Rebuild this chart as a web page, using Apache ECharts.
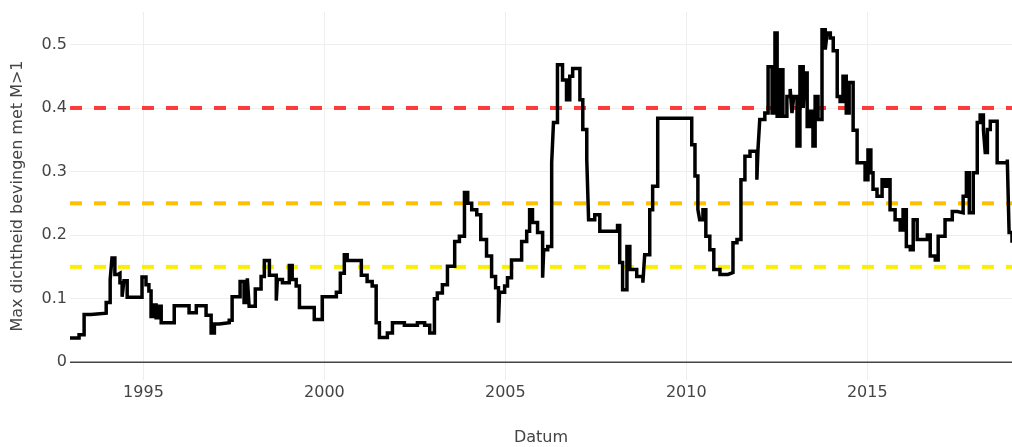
<!DOCTYPE html>
<html>
<head>
<meta charset="utf-8">
<script src="https://cdn.jsdelivr.net/npm/echarts@6/dist/echarts.min.js"></script>
<style>
html,body{margin:0;padding:0;background:#fff;}
#chart{width:1012px;height:447px;}
</style>
</head>
<body>
<div id="chart"></div>
<script>
// Dates as decimal years; each value holds from its date until the next date
const dates = [
 1992.97,1993.22,1993.36,1993.55,1993.97,1994.08,1994.13,1994.21,1994.29,1994.35,1994.41,1994.46,1994.55,
 1994.96,1995.07,1995.15,1995.21,1995.27,1995.35,1995.43,1995.49,1995.85,1996.26,1996.46,1996.73,1996.87,1996.96,
 1997.09,1997.37,1997.45,1997.67,1997.78,1997.87,1997.92,1998.09,1998.25,1998.34,1998.48,1998.67,1998.70,1998.84,
 1999.03,1999.11,1999.22,1999.31,1999.72,1999.94,2000.33,2000.44,2000.55,2000.63,2001.02,2001.18,2001.32,2001.43,
 2001.52,2001.74,2001.88,2002.21,2002.57,2002.77,2002.91,2003.04,2003.12,2003.26,2003.40,2003.60,2003.73,2003.87,
 2003.96,2004.07,2004.21,2004.32,2004.48,2004.62,2004.73,2004.81,2004.84,2004.98,2005.06,2005.17,2005.45,2005.59,
 2005.67,2005.75,2005.89,2006.03,2006.06,2006.17,2006.28,2006.33,2006.44,2006.58,2006.69,2006.78,2006.86,2007.06,
 2007.14,2007.25,2007.30,2007.47,2007.61,2008.10,2008.16,2008.24,2008.36,2008.44,2008.63,2008.80,2008.85,2008.99,
 2009.07,2009.21,2010.15,2010.24,2010.32,2010.37,2010.46,2010.54,2010.65,2010.76,2010.93,2011.15,2011.29,2011.40,
 2011.51,2011.62,2011.76,2011.95,2011.98,2012.03,2012.17,2012.26,2012.37,2012.45,2012.51,2012.59,2012.67,2012.78,
 2012.87,2012.92,2012.97,2013.06,2013.14,2013.23,2013.28,2013.34,2013.42,2013.50,2013.56,2013.64,2013.75,2013.84,
 2013.89,2013.98,2014.06,2014.17,2014.25,2014.33,2014.42,2014.50,2014.61,2014.72,2014.94,2015.02,2015.10,2015.16,
 2015.27,2015.41,2015.49,2015.55,2015.63,2015.77,2015.91,2015.99,2016.08,2016.19,2016.27,2016.38,2016.66,2016.74,
 2016.88,2016.96,2017.15,2017.35,2017.49,2017.65,2017.74,2017.82,2017.93,2018.04,2018.12,2018.21,2018.26,2018.32,
 2018.40,2018.59,2018.87,2018.92,2019.00
];
const values = [
 0.038,0.043,0.075,0.077,0.094,0.13,0.164,0.138,0.14,0.125,0.103,0.128,0.102,
 0.134,0.122,0.112,0.072,0.09,0.07,0.088,0.062,0.089,0.078,0.089,0.074,0.046,0.06,
 0.062,0.066,0.103,0.127,0.094,0.132,0.088,0.115,0.135,0.16,0.137,0.097,0.13,0.125,
 0.152,0.13,0.12,0.086,0.067,0.103,0.11,0.14,0.169,0.16,0.137,0.127,0.12,0.062,
 0.039,0.046,0.062,0.058,0.062,0.058,0.046,0.10,0.109,0.122,0.151,0.19,0.198,0.267,
 0.25,0.24,0.232,0.193,0.167,0.135,0.117,0.062,0.11,0.12,0.133,0.161,0.19,0.206,
 0.24,0.22,0.204,0.133,0.177,0.182,0.314,0.377,0.468,0.444,0.413,0.45,0.462,0.413,
 0.366,0.318,0.224,0.232,0.206,0.215,0.157,0.114,0.182,0.146,0.135,0.125,0.169,0.24,
 0.277,0.384,0.342,0.293,0.24,0.224,0.24,0.198,0.177,0.146,0.138,0.141,0.188,0.193,
 0.287,0.324,0.332,0.287,0.334,0.382,0.392,0.465,0.392,0.518,0.387,0.46,0.387,0.418,
 0.43,0.392,0.418,0.34,0.465,0.40,0.455,0.371,0.395,0.34,0.418,0.382,0.523,0.492,
 0.518,0.51,0.49,0.418,0.41,0.45,0.392,0.44,0.365,0.314,0.287,0.334,0.298,0.272,
 0.261,0.287,0.277,0.287,0.24,0.224,0.208,0.24,0.182,0.177,0.224,0.193,0.2,0.167,
 0.161,0.198,0.224,0.237,0.235,0.261,0.298,0.235,0.298,0.377,0.389,0.366,0.33,0.366,
 0.379,0.314,0.319,0.204,0.188
];
const thresholdValues = [0.4, 0.25, 0.15];
const thresholdColors = ['#ff3b3b', '#ffc000', '#f8f000'];
const xTickYears = [1995, 2000, 2005, 2010, 2015];
const yTicks = [0, 0.1, 0.2, 0.3, 0.4, 0.5];
const xName = 'Datum';
const yName = 'Max dichtheid bevingen met M>1';

const xMin = dates[0], xMax = dates[dates.length - 1];
const FONT = 'DejaVu Sans';

const series = [{
  type: 'line',
  data: [[xMin, 0], [xMax, 0]],
  symbol: 'none',
  silent: true,
  z: 0,
  lineStyle: { color: '#444', width: 1.5 }
}];
thresholdValues.forEach((v, i) => series.push({
  type: 'line',
  data: [[xMin, v], [xMax, v]],
  symbol: 'none',
  silent: true,
  z: 1,
  lineStyle: { color: thresholdColors[i], width: 4, type: [12, 12], cap: 'butt' }
}));
series.push({
  type: 'line',
  step: 'end',
  symbol: 'none',
  z: 5,
  data: dates.map((d, i) => [d, values[i]]),
  lineStyle: { color: '#000', width: 3.5, join: 'miter' }
});

const chart = echarts.init(document.getElementById('chart'), null, { renderer: 'canvas' });
chart.setOption({
  animation: false,
  backgroundColor: '#fff',
  grid: { left: 70, right: 0, top: 12, bottom: 67, containLabel: false, outerBoundsMode: 'none' },
  xAxis: {
    type: 'value',
    min: xMin, max: xMax,
    name: xName,
    nameLocation: 'middle',
    nameGap: 50,
    nameTextStyle: { fontFamily: FONT, fontSize: 16, color: '#444' },
    axisLine: { show: false, onZero: false },
    axisTick: { show: false, customValues: xTickYears },
    axisLabel: { customValues: xTickYears, fontFamily: FONT, fontSize: 16, color: '#444', margin: 5,
      formatter: v => String(Math.round(v)) },
    splitLine: { show: true, lineStyle: { color: '#eeeeee', width: 1 } }
  },
  yAxis: {
    type: 'value',
    min: -0.028, max: 0.551,
    name: yName,
    nameLocation: 'middle',
    nameGap: 44,
    nameRotate: 90,
    nameTextStyle: { fontFamily: FONT, fontSize: 16, color: '#444' },
    axisLine: { show: false },
    axisTick: { show: false, customValues: yTicks },
    axisLabel: { customValues: yTicks, fontFamily: FONT, fontSize: 16, color: '#444', margin: 3,
      formatter: v => (Math.abs(v) < 1e-9 ? '0' : String(Math.round(v * 10) / 10)) },
    splitLine: { show: true, lineStyle: { color: '#eeeeee', width: 1 } }
  },
  series: series
});
</script>
</body>
</html>
